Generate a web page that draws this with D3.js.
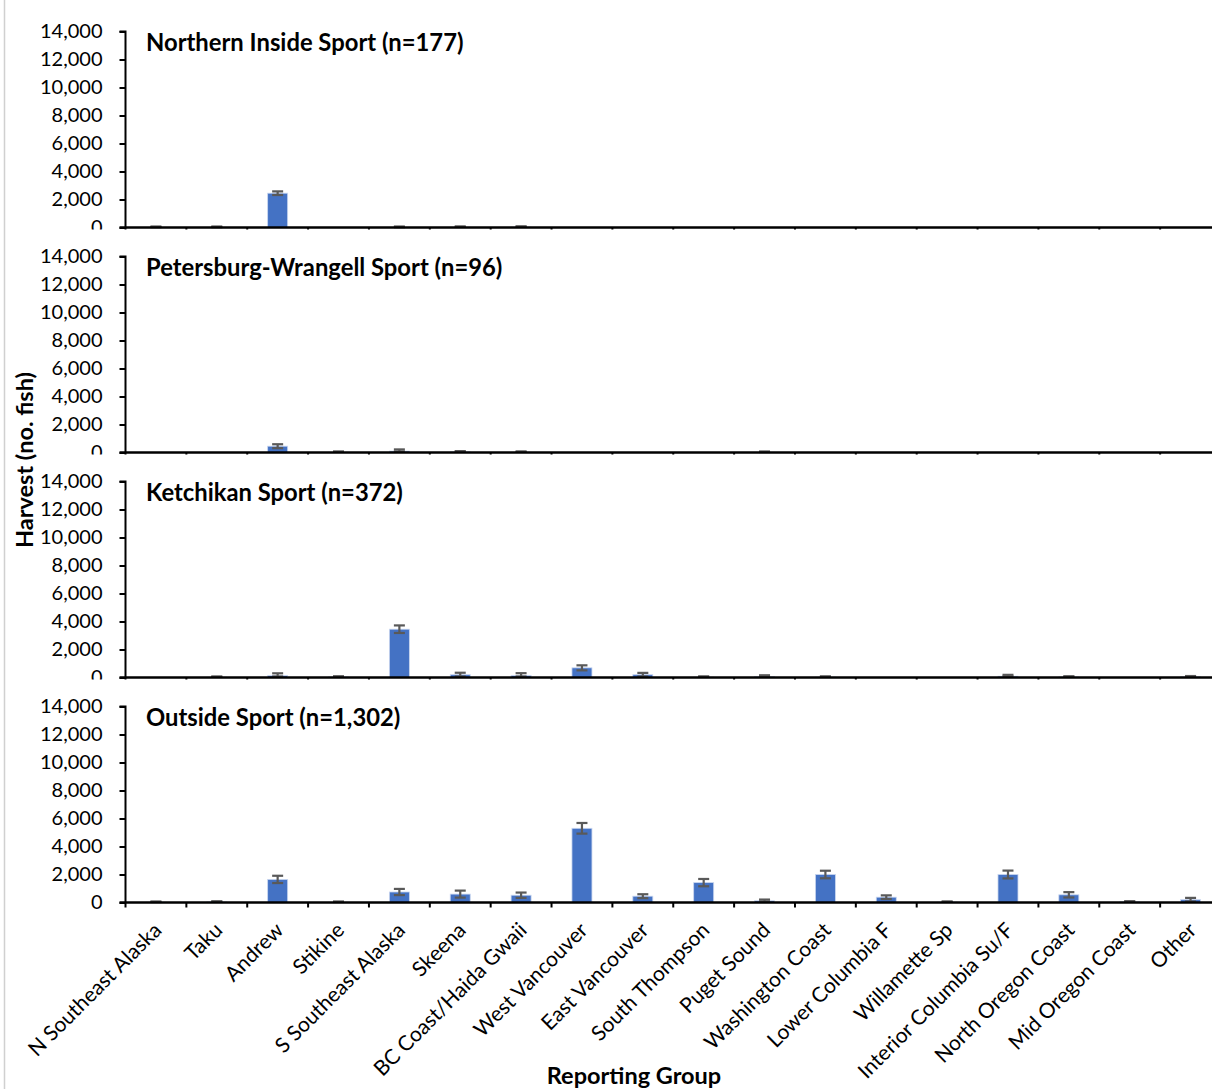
<!DOCTYPE html>
<html>
<head>
<meta charset="utf-8">
<script src="https://cdn.jsdelivr.net/npm/d3@7"></script>
<style>
  html, body { margin: 0; padding: 0; background: #fff; }
  svg { display: block; font-family: Lato, "Open Sans", "Liberation Sans", sans-serif; }
</style>
</head>
<body>
<svg id="chart" width="1212" height="1089"></svg>
<script>
// Reporting groups along the x axis
const categories = [
  "N Southeast Alaska", "Taku", "Andrew", "Stikine", "S Southeast Alaska",
  "Skeena", "BC Coast/Haida Gwaii", "West Vancouver", "East Vancouver",
  "South Thompson", "Puget Sound", "Washington Coast", "Lower Columbia F",
  "Willamette Sp", "Interior Columbia Su/F", "North Oregon Coast",
  "Mid Oregon Coast", "Other"
];

// Panel titles (one per fishery)
const panelTitles = [
  "Northern Inside Sport (n=177)",
  "Petersburg-Wrangell Sport (n=96)",
  "Ketchikan Sport (n=372)",
  "Outside Sport (n=1,302)"
];

// Harvest estimates (no. fish) by reporting group
const northernInside = [5, 5, 2450, 0, 5, 20, 30, 0, 0, 0, 0, 0, 0, 0, 0, 0, 0, 0];
const petersburgWrangell = [0, 0, 450, 20, 100, 50, 20, 0, 0, 0, 15, 0, 0, 0, 0, 0, 0, 0];
const ketchikan = [0, 20, 130, 40, 3450, 200, 140, 690, 200, 30, 70, 30, 0, 0, 90, 40, 0, 50];
const outside = [20, 40, 1650, 20, 750, 600, 520, 5300, 450, 1420, 120, 2000, 380, 30, 2000, 550, 50, 200];

// Error bar half-widths (no. fish)
const northernInsideErr = [20, 20, 130, 0, 20, 30, 40, 0, 0, 0, 0, 0, 0, 0, 0, 0, 0, 0];
const petersburgWrangellErr = [0, 0, 140, 25, 120, 50, 30, 0, 0, 0, 20, 0, 0, 0, 0, 0, 0, 0];
const ketchikanErr = [0, 25, 170, 40, 270, 140, 170, 180, 130, 30, 90, 35, 0, 0, 100, 40, 0, 55];
const outsideErr = [15, 40, 260, 15, 220, 250, 190, 380, 140, 260, 90, 270, 130, 20, 280, 190, 40, 130];

// y-axis tick values
const yTicks = [0, 2000, 4000, 6000, 8000, 10000, 12000, 14000];

const seriesValues = [northernInside, petersburgWrangell, ketchikan, outside];
const seriesErrors = [northernInsideErr, petersburgWrangellErr, ketchikanErr, outsideErr];

const svg = d3.select("#chart");
const W = 1212;

const plotLeft = 125.5;
const plotRight = 1221;
const firstTop = 31.5;
const panelStep = 225;
const plotH = 196;

const x = d3.scaleBand().domain(categories).range([plotLeft, plotRight]).paddingInner(0).paddingOuter(0);
const barW = 20;
const fmt = d3.format(",");

// thin page border on the left
svg.append("line")
  .attr("x1", 4.5).attr("x2", 4.5).attr("y1", 0).attr("y2", 1089)
  .attr("stroke", "#d0d0d0").attr("stroke-width", 1.5);

seriesValues.forEach((vals, i) => {
  const top = firstTop + i * panelStep;
  const bottom = top + plotH;
  const errs = seriesErrors[i];
  const g = svg.append("g");

  // white backing so each panel sits over the one above it
  if (i > 0) {
    g.append("rect").attr("x", 8).attr("y", top - 27).attr("width", W).attr("height", plotH + 27)
      .attr("fill", "#fff");
  }

  const y = d3.scaleLinear().domain([0, 14000]).range([bottom, top]);

  // bars
  g.selectAll("rect.bar").data(vals).join("rect")
    .attr("class", "bar")
    .attr("x", (d, j) => x(categories[j]) + x.bandwidth() / 2 - barW / 2)
    .attr("width", barW)
    .attr("y", d => y(d))
    .attr("height", d => bottom - y(d))
    .attr("fill", "#4472C4")
    .attr("stroke", "#c9d6ef").attr("stroke-width", 0.8);

  // error bars
  const eb = g.selectAll("g.err").data(vals.map((v, j) => ({ v, e: errs[j], c: categories[j] })))
    .join("g").attr("class", "err")
    .filter(d => d.e > 0);
  eb.each(function(d) {
    const cx = x(d.c) + x.bandwidth() / 2;
    const hi = y(d.v + d.e);
    const lo = Math.min(y(Math.max(d.v - d.e, 0)), bottom - 1);
    const s = d3.select(this);
    s.append("line").attr("x1", cx).attr("x2", cx).attr("y1", hi).attr("y2", lo)
      .attr("stroke", "#595959").attr("stroke-width", 2.2);
    [hi, lo].forEach(yy => s.append("line")
      .attr("x1", cx - 5.5).attr("x2", cx + 5.5).attr("y1", yy).attr("y2", yy)
      .attr("stroke", "#595959").attr("stroke-width", 2.2));
  });

  // y axis
  const yAxis = g.append("g").attr("transform", `translate(${plotLeft},0)`)
    .call(d3.axisLeft(y).tickValues(yTicks).tickFormat(fmt).tickSize(6).tickPadding(17));
  yAxis.select(".domain").attr("stroke", "#000").attr("stroke-width", 2)
    .attr("d", `M-6,${top}H0V${bottom}`);
  yAxis.selectAll(".tick line").attr("stroke", "#000").attr("stroke-width", 2);
  yAxis.selectAll(".tick text").attr("font-size", 20).attr("fill", "#000")
    .attr("font-family", "Lato, 'Open Sans', sans-serif");

  // x axis with ticks at category boundaries
  const xAxis = g.append("g").attr("transform", `translate(0,${bottom})`);
  xAxis.append("line").attr("x1", plotLeft - 6).attr("x2", plotRight).attr("y1", 0).attr("y2", 0)
    .attr("stroke", "#000").attr("stroke-width", 2.5);
  xAxis.selectAll("line.tk").data(categories).join("line").attr("class", "tk")
    .attr("x1", d => x(d)).attr("x2", d => x(d)).attr("y1", 0).attr("y2", 5)
    .attr("stroke", "#000").attr("stroke-width", 2);

  // panel title
  g.append("text").attr("x", 146).attr("y", top + 19)
    .attr("font-size", 23.8).attr("font-weight", "bold").attr("fill", "#000")
    .text(panelTitles[i]);

  // category labels under the last panel
  if (i === seriesValues.length - 1) {
    g.selectAll("text.cat").data(categories).join("text").attr("class", "cat")
      .attr("transform", d => `translate(${x(d) + x.bandwidth() / 2 + 7},${bottom + 29}) rotate(-45)`)
      .attr("text-anchor", "end")
      .attr("font-size", 21).attr("fill", "#000")
      .text(d => d);
  }
});

// axis titles
svg.append("text")
  .attr("transform", "translate(33,460) rotate(-90)")
  .attr("text-anchor", "middle").attr("font-size", 23.5).attr("font-weight", "bold").attr("fill", "#000")
  .text("Harvest (no. fish)");

svg.append("text")
  .attr("x", 634).attr("y", 1084)
  .attr("text-anchor", "middle").attr("font-size", 23.5).attr("font-weight", "bold").attr("fill", "#000")
  .text("Reporting Group");
</script>
</body>
</html>
